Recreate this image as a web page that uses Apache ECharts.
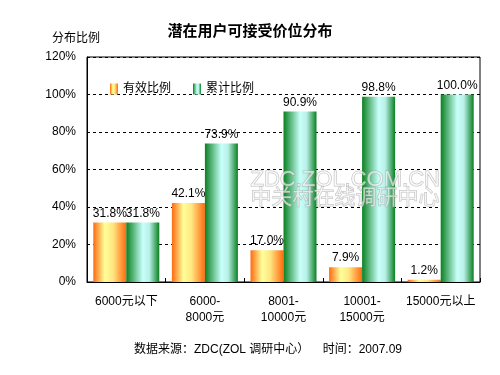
<!DOCTYPE html>
<html>
<head>
<meta charset="utf-8">
<script src="https://cdn.jsdelivr.net/npm/echarts@6/dist/echarts.min.js"></script>
<style>
  html, body { margin: 0; padding: 0; background: #fff; }
  #chart { width: 500px; height: 375px; }
</style>
</head>
<body>
<div id="chart"></div>
<script>
// 价位区间
var categories = ['6000元以下', '6000-\n8000元', '8001-\n10000元', '10001-\n15000元', '15000元以上'];
// 有效比例 (%)
var validRatio = [31.8, 42.1, 17.0, 7.9, 1.2];
// 累计比例 (%)
var cumulativeRatio = [31.8, 73.9, 90.9, 98.8, 100.0];
var yTicks = [0, 20, 40, 60, 80, 100, 120];

var FONT = '"Liberation Sans", Arial, "Noto Sans CJK SC", sans-serif';

var orangeGrad = new echarts.graphic.LinearGradient(0, 0, 1, 0, [
    { offset: 0, color: '#FF6A10' },
    { offset: 0.35, color: '#FFFF99' },
    { offset: 0.6, color: '#FFE680' },
    { offset: 1, color: '#FF6A10' }
]);
var greenGrad = new echarts.graphic.LinearGradient(0, 0, 1, 0, [
    { offset: 0, color: '#0A8020' },
    { offset: 0.5, color: '#C8FFFA' },
    { offset: 0.7, color: '#B8F0E8' },
    { offset: 1, color: '#0A8020' }
]);

var chart = echarts.init(document.getElementById('chart'));

chart.setOption({
    backgroundColor: '#fff',
    textStyle: { fontFamily: FONT },
    title: {
        text: '潜在用户可接受价位分布',
        left: 'center',
        top: 19,
        textStyle: { fontSize: 15, fontWeight: 'bold', color: '#000', fontFamily: FONT }
    },
    legend: {
        left: 105,
        top: 78,
        icon: 'rect',
        itemWidth: 8,
        itemHeight: 11,
        itemGap: 22,
        textStyle: { fontSize: 12, color: '#000', fontFamily: FONT },
        data: ['有效比例', '累计比例']
    },
    grid: {
        left: 87, right: 20, top: 57, bottom: 93,
        show: true,
        borderColor: '#000',
        borderWidth: 1
    },
    xAxis: {
        type: 'category',
        data: categories,
        axisLine: { lineStyle: { color: '#000', width: 1 } },
        axisTick: { show: true, inside: true, length: 4, lineStyle: { color: '#000' } },
        axisLabel: { interval: 0, color: '#000', fontSize: 12, margin: 12, lineHeight: 16, fontFamily: FONT }
    },
    yAxis: {
        type: 'value',
        min: yTicks[0],
        max: yTicks[yTicks.length - 1],
        interval: 20,
        axisLine: { show: true, lineStyle: { color: '#000' } },
        axisTick: { show: false },
        axisLabel: {
            color: '#000', fontSize: 12, margin: 11, fontFamily: FONT,
            formatter: function (v) { return v + '%'; }
        },
        splitLine: { show: true, lineStyle: { color: '#000', type: [3, 3], width: 1 } }
    },
    graphic: [
        { type: 'text', left: 52, top: 33, style: { text: '分布比例', fontSize: 12, fill: '#000', fontFamily: FONT } },
        { type: 'text', left: 250, top: 168, silent: true, z: 100,
          style: { text: 'ZDC.ZOL.COM.CN', fontSize: 22, fill: 'rgba(255,255,255,0.6)', stroke: 'rgba(150,150,150,0.6)', lineWidth: 1, fontFamily: FONT } },
        { type: 'text', left: 250, top: 187, silent: true, z: 100,
          style: { text: '中关村在线调研中心', fontSize: 21, fill: 'rgba(255,255,255,0.6)', stroke: 'rgba(150,150,150,0.6)', lineWidth: 1, fontFamily: FONT } },
        { type: 'text', left: 134, top: 344, style: { text: '数据来源：ZDC(ZOL 调研中心）    时间：2007.09', fontSize: 12, fill: '#000', fontFamily: FONT } }
    ],
    series: [
        {
            name: '有效比例',
            type: 'bar',
            data: validRatio,
            barWidth: 33,
            barGap: '0%',
            itemStyle: { color: orangeGrad },
            label: {
                show: true, position: 'top', distance: 3, color: '#000', fontSize: 12, fontFamily: FONT,
                formatter: function (p) { return p.value.toFixed(1) + '%'; }
            }
        },
        {
            name: '累计比例',
            type: 'bar',
            data: cumulativeRatio,
            barWidth: 33,
            barGap: '0%',
            itemStyle: { color: greenGrad },
            label: {
                show: true, position: 'top', distance: 3, color: '#000', fontSize: 12, fontFamily: FONT,
                formatter: function (p) { return p.value.toFixed(1) + '%'; }
            }
        }
    ]
});
</script>
</body>
</html>
